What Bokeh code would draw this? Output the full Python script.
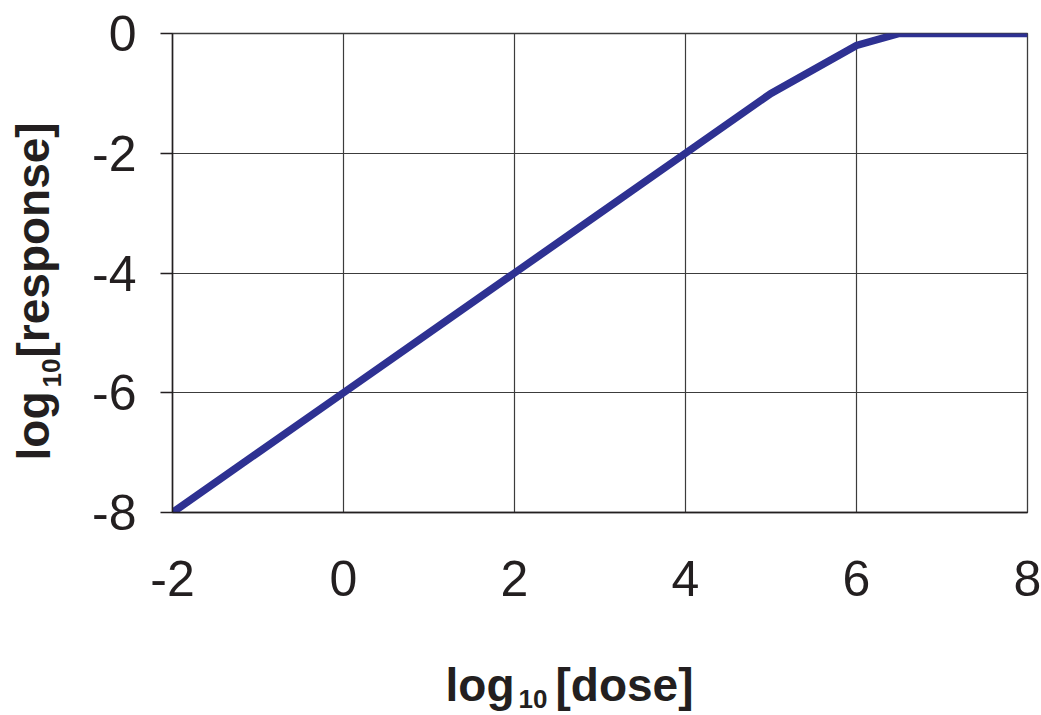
from bokeh.plotting import figure
from bokeh.layouts import column, row
from bokeh.models import Range1d, FixedTicker
from bokeh.core.properties import value
from bokeh.embed import file_html
from bokeh.resources import INLINE

# log10 dose vs log10 response
dose_log = [-2, -1, 0, 1, 2, 3, 4, 5, 6, 6.5, 7, 8]
response_log = [-8, -7, -6, -5, -4, -3, -2, -1, -0.2, 0, 0, 0]

x_ticks = [-2, 0, 2, 4, 6, 8]
x_tick_labels = ["-2", "0", "2", "4", "6", "8"]
y_ticks = [-8, -6, -4, -2, 0]
y_tick_labels = ["-8", "-6", "-4", "-2", "0"]

INK = "#231F20"
GRID = "#3C3C3C"
LINE = "#2E3192"
FONT = "Liberation Sans"

W, H = 1041, 715
LEFT_W = 70      # strip holding the y title
BOTTOM_H = 75    # strip holding the x title
MAIN_W, MAIN_H = W - LEFT_W, H - BOTTOM_H
TOP, BOTTOM = 33, 128
FRAME_H = MAIN_H - TOP - BOTTOM

p = figure(width=MAIN_W, height=MAIN_H, output_backend="svg", toolbar_location=None,
           x_range=Range1d(-2, 8), y_range=Range1d(-8, 0),
           min_border_left=102, min_border_right=14,
           min_border_top=TOP, min_border_bottom=BOTTOM,
           background_fill_color="white", border_fill_color="white")
p.outline_line_color = GRID
p.outline_line_width = 1.3

# grid
p.xgrid.ticker = FixedTicker(ticks=x_ticks)
p.ygrid.ticker = FixedTicker(ticks=y_ticks)
for g in (p.xgrid, p.ygrid):
    g.grid_line_color = GRID
    g.grid_line_width = 1.2

# axes
p.xaxis.ticker = FixedTicker(ticks=x_ticks)
p.yaxis.ticker = FixedTicker(ticks=y_ticks)
p.xaxis.major_label_overrides = dict(zip(x_ticks, x_tick_labels))
p.yaxis.major_label_overrides = dict(zip(y_ticks, y_tick_labels))
for ax in (p.xaxis, p.yaxis):
    ax.axis_line_color = INK
    ax.axis_line_width = 1.5
    ax.major_tick_line_color = INK
    ax.major_tick_line_width = 1.5
    ax.minor_tick_line_color = None
    ax.major_tick_in = 0
    ax.major_label_text_font = FONT
    ax.major_label_text_font_size = "50px"
    ax.major_label_text_color = INK
p.xaxis.major_tick_out = 0
p.xaxis.major_label_standoff = 48
p.yaxis.major_tick_out = 12
p.yaxis.major_label_standoff = 24

p.line(dose_log, response_log, line_color=LINE, line_width=7.5, line_join="miter")


def text_strip(width, height, **kw):
    f = figure(width=width, height=height, output_backend="svg", toolbar_location=None,
               x_axis_type=None, y_axis_type=None, outline_line_color=None,
               background_fill_color="white", border_fill_color="white", **kw)
    f.grid.visible = False
    return f


def piece(f, x, y, text, size, angle=0.0):
    # anchor sits a little above the drawn baseline (~0.36 em)
    f.text(x=[x], y=[y], text=[text], angle=angle,
           text_font=value(FONT), text_font_style="bold",
           text_font_size=f"{size}px", text_color=INK,
           text_align="left", text_baseline="alphabetic")


# x title: log 10[dose]  (pixel units inside the strip, y measured up from its bottom)
xt = text_strip(W, BOTTOM_H, x_range=Range1d(0, W), y_range=Range1d(0, BOTTOM_H),
                min_border=0)
piece(xt, 445, 31, "log", 46)
piece(xt, 518, 17, "10", 26)
piece(xt, 555, 31, "[dose]", 46)

# y title: log10[response], reading upward; the strip's frame lines up with the plot frame
yt = text_strip(LEFT_W, MAIN_H, x_range=Range1d(0, LEFT_W), y_range=Range1d(0, FRAME_H),
                min_border_left=0, min_border_right=0,
                min_border_top=TOP, min_border_bottom=BOTTOM)
piece(yt, 33, 52, "log", 46, angle=1.5708)
piece(yt, 51, 125, "10", 26, angle=1.5708)
piece(yt, 33, 155, "[response]", 46, angle=1.5708)

layout = column(row(yt, p), xt)
open("out.html", "w").write(file_html(layout, INLINE))
